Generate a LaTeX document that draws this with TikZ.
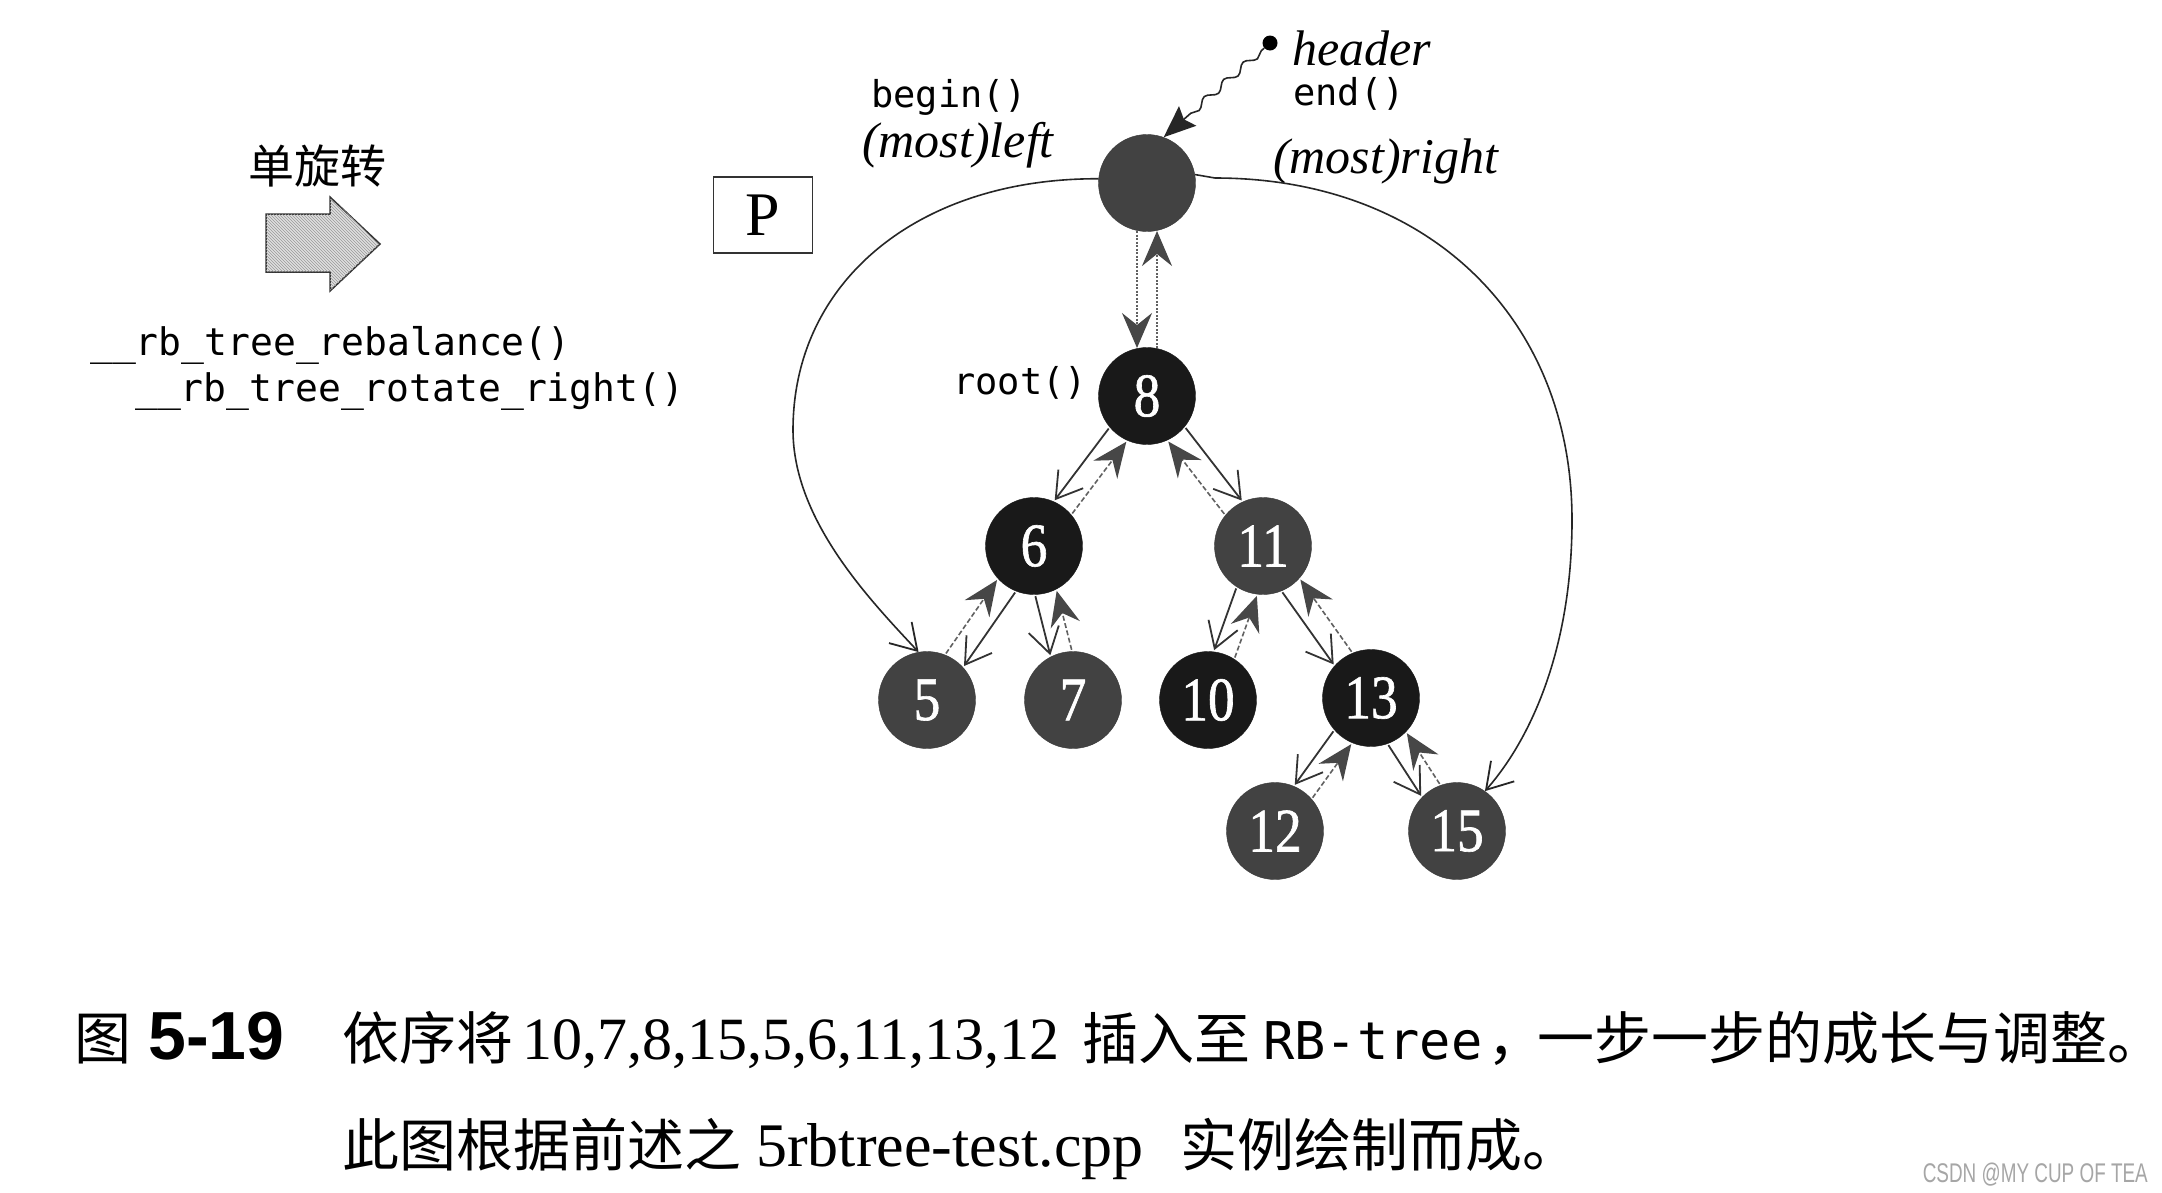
\documentclass[tikz,border=0pt]{standalone}
\usepackage{fontspec}
\setmainfont{Liberation Serif}
\newfontfamily\cjk{Noto Sans CJK SC}
\newfontfamily\codefont{DejaVu Sans Mono}
\newfontfamily\capsans{Liberation Sans}
\newfontfamily\numfont[FakeStretch=0.86,FakeBold=1]{Liberation Serif}
\newfontfamily\wmfont[FakeStretch=0.7]{Liberation Sans}
\usetikzlibrary{arrows.meta,calc,decorations.pathmorphing,patterns}
\newcommand\fsz[1]{\fontsize{#1}{#1}\selectfont}
\newcommand\rbpair[3]{%
  \draw[childln] ($(#1)!49pt!(#2)!#3*11pt!90:(#2)$) -- ($(#2)!49pt!(#1)!#3*11pt!-90:(#1)$);
  \draw[parentln] ($(#2)!49pt!(#1)!#3*11pt!90:(#1)$) -- ($(#1)!49pt!(#2)!#3*11pt!-90:(#2)$);
}
\tikzset{
  rbnode/.style={circle, minimum size=97pt, inner sep=0pt, text=white, font=\numfont\fsz{62}},
  blacknode/.style={rbnode, fill=black!90, draw=black!90},
  rednode/.style={rbnode, fill=black!74, draw=black!78},
  childln/.style={draw=black!80, line width=1.8pt, -{Straight Barb[length=25pt,width=31pt,line width=1.8pt]}},
  parentln/.style={draw=black!62, line width=1.6pt, dash pattern=on 5pt off 2.5pt, -{Stealth[length=35pt,width=30pt,inset=12pt,color=black!72,fill=black!72]}},
  dotln/.style={draw=black!62, line width=1.6pt, dash pattern=on 2pt off 1.5pt, -{Stealth[length=35pt,width=30pt,inset=12pt,color=black!72,fill=black!72]}},
  curveln/.style={draw=black!85, line width=1.6pt, -{Straight Barb[length=25pt,width=31pt,line width=1.8pt]}},
  codetxt/.style={inner sep=0pt, anchor=west, font=\codefont\fsz{38}},
  monolbl/.style={inner sep=0pt, anchor=west, font=\codefont\fsz{37}},
  itlbl/.style={inner sep=0pt, anchor=west, font=\itshape\fsz{50}},
  captxt/.style={inner sep=0pt, anchor=base west},
}
\begin{document}
\begin{tikzpicture}[x=1pt,y=-1pt]
\path[use as bounding box, fill=white] (0,0) rectangle (2162,1192);

% left: rotation arrow
\node[inner sep=0pt, font=\cjk\fsz{46}] (rotlbl) at (317,166) {单旋转};
\draw[draw=black!80, line width=1.5pt, fill=gray!25,
      postaction={pattern=north west lines, pattern color=gray!80}]
  (266,214) -- (330,214) -- (330,197) -- (380,244) -- (330,291) -- (330,272) -- (266,272) -- cycle;
\node[codetxt] (rebal) at (90,345) {\_\_rb\_tree\_rebalance()};
\node[codetxt] (rotr) at (135,392) {\_\_rb\_tree\_rotate\_right()};

% P box
\node[draw=black!80, line width=1.5pt, minimum width=99pt, minimum height=76pt, inner sep=0pt,
      font=\fsz{62}] (pbox) at (763,215) {P};

% labels
\node[monolbl] (beginlbl) at (871,97) {begin()};
\node[itlbl] (mleft) at (862,145) {(most)left};
\node[itlbl] (hdrlbl) at (1292,48) {header};
\node[monolbl] (endlbl) at (1293,94) {end()};
\node[itlbl] (mright) at (1273,161) {(most)right};
\node[monolbl] (rootlbl) at (953,383) {root()};

% nodes
\node[rednode] (H) at (1147,183) {};
\node[blacknode] (n8) at (1147,396) {8};
\node[blacknode] (n6) at (1034,546) {6};
\node[rednode] (n11) at (1263,546) {11};
\node[rednode] (n5) at (927,700) {5};
\node[rednode] (n7) at (1073,700) {7};
\node[blacknode] (n10) at (1208,700) {10};
\node[blacknode] (n13) at (1371,698) {13};
\node[rednode] (n12) at (1275,831) {12};
\node[rednode] (n15) at (1457,831) {15};

% header pointer
\node[circle, fill=black, inner sep=0pt, minimum size=15pt] (hdot) at (1270,43) {};
\draw[black!85, line width=1.6pt, decorate,
      decoration={snake, amplitude=3.5pt, segment length=26pt, pre length=4pt, post length=36pt},
      -{Stealth[length=32pt,width=26pt,inset=5pt]}] (hdot) -- (H.70);

% header <-> root
\draw[dotln] ($(H)!48pt!(n8)!10pt!-90:(n8)$) -- ($(n8)!48pt!(H)!10pt!90:(H)$);
\draw[dotln] ($(n8)!48pt!(H)!10pt!-90:(H)$) -- ($(H)!48pt!(n8)!10pt!90:(n8)$);

% tree links
\rbpair{n8}{n6}{-1}
\rbpair{n8}{n11}{1}
\rbpair{n6}{n5}{1}
\rbpair{n6}{n7}{-1}
\rbpair{n11}{n10}{-1}
\rbpair{n11}{n13}{-1}
\rbpair{n13}{n12}{-1}
\rbpair{n13}{n15}{-1}

% leftmost / rightmost
\draw[curveln] (H.175) .. controls (920,178) and (793,280) .. (793,430)
  .. controls (793,520) and (870,600) .. (n5.100);
\draw[curveln] (H.10) -- (1215,178) .. controls (1430,178) and (1572,320) .. (1572,520)
  .. controls (1572,650) and (1530,740) .. (n15.55);

% caption
\node[captxt, font=\cjk\fsz{57}] (c1) at (74,1059) {图};
\node[captxt, font=\capsans\bfseries\fsz{68}] (c2) at (148,1059) {5-19};
\node[captxt, font=\cjk\fsz{57}] (c3) at (342,1059) {依序将};
\node[captxt, font=\fsz{60}] (c4) at (522,1059) {10,7,8,15,5,6,11,13,12};
\node[captxt, font=\cjk\fsz{56}] (c5) at (1082,1059) {插入至};
\node[captxt, font=\codefont\fsz{52}] (c6) at (1263,1059) {RB-tree};
\node[captxt, font=\cjk\fsz{57}] (c7) at (1487,1059) {，};
\node[captxt, font=\cjk\fsz{57}] (c8) at (1537,1059) {一步一步的成长与调整。};
\node[captxt, font=\cjk\fsz{57}] (d1) at (342,1166) {此图根据前述之};
\node[captxt, font=\fsz{62}] (d2) at (756,1166) {5rbtree-test.cpp};
\node[captxt, font=\cjk\fsz{57}] (d3) at (1180,1166) {实例绘制而成。};

% watermark
\node[inner sep=0pt, anchor=east, text=gray!70, font=\wmfont\fsz{27}] (wm) at (2148,1175) {CSDN @MY CUP OF TEA};
\end{tikzpicture}
\end{document}
